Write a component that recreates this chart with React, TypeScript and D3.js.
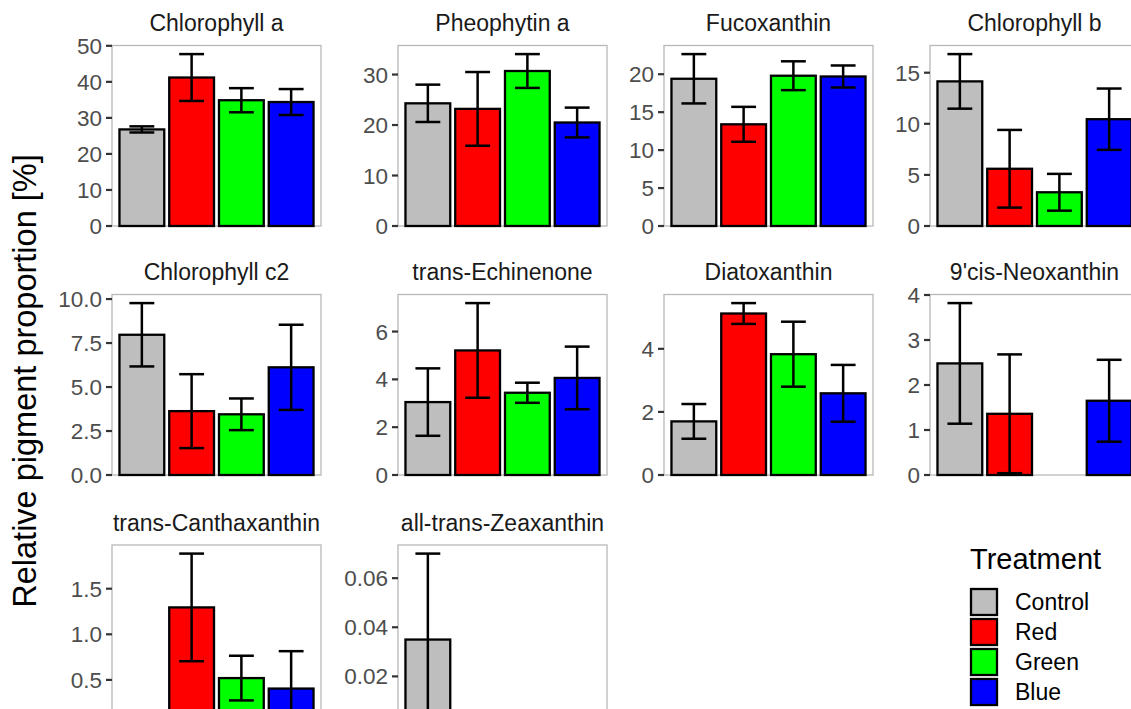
import React from 'react';
import * as d3 from 'd3';

// pigment panels, in facet order
const pigments = [
  'Chlorophyll a', 'Pheophytin a', 'Fucoxanthin', 'Chlorophyll b',
  'Chlorophyll c2', 'trans-Echinenone', 'Diatoxanthin', "9'cis-Neoxanthin",
  'trans-Canthaxanthin', 'all-trans-Zeaxanthin',
];
const treatments = ['Control', 'Red', 'Green', 'Blue'];
const treatmentColors = ['#BEBEBE', '#FF0000', '#00FF00', '#0000FF'];

// mean and standard error per treatment (null = not detected)
const controlMean = [26.8, 24.3, 19.4, 14.15, 7.97, 3.05, 1.7, 2.48, null, 0.035];
const controlSe = [0.85, 3.7, 3.25, 2.67, 1.8, 1.41, 0.55, 1.34, null, 0.035];
const redMean = [41.2, 23.2, 13.4, 5.6, 3.63, 5.21, 5.12, 1.36, 1.295, null];
const redSe = [6.5, 7.3, 2.3, 3.8, 2.1, 1.98, 0.33, 1.32, 0.59, null];
const greenMean = [34.9, 30.7, 19.8, 3.3, 3.45, 3.44, 3.83, null, 0.52, null];
const greenSe = [3.35, 3.35, 1.9, 1.8, 0.9, 0.42, 1.03, null, 0.245, null];
const blueMean = [34.4, 20.5, 19.7, 10.45, 6.12, 4.06, 2.59, 1.65, 0.405, null];
const blueSe = [3.6, 2.95, 1.45, 3.0, 2.42, 1.31, 0.9, 0.91, 0.41, null];

// y tick labels per panel
const yTicks = [
  ['0', '10', '20', '30', '40', '50'],
  ['0', '10', '20', '30'],
  ['0', '5', '10', '15', '20'],
  ['0', '5', '10', '15'],
  ['0.0', '2.5', '5.0', '7.5', '10.0'],
  ['0', '2', '4', '6'],
  ['0', '2', '4'],
  ['0', '1', '2', '3', '4'],
  ['0.0', '0.5', '1.0', '1.5'],
  ['0.00', '0.02', '0.04', '0.06'],
];

const means = [controlMean, redMean, greenMean, blueMean];
const ses = [controlSe, redSe, greenSe, blueSe];

const W = 1131;
const H = 709;
const colLeft = [112, 398, 664, 930];
const rowTop = [45.5, 294.5, 545];
const panelW = 209;
const panelH = 180.5;
const font = "'Liberation Sans', Arial, sans-serif";

function Panel({ idx }: { idx: number }) {
  const left = colLeft[idx % 4];
  const top = rowTop[Math.floor(idx / 4)];

  const rows = treatments.map((t, k) => ({
    t,
    color: treatmentColors[k],
    mean: means[k][idx],
    se: ses[k][idx],
  }));
  const maxTop = d3.max(rows, d => (d.mean == null ? 0 : d.mean + (d.se || 0))) || 1;

  const x = d3.scaleBand().domain(treatments).range([0, panelW]).paddingInner(0.1).paddingOuter(0.15);
  const y = d3.scaleLinear().domain([0, maxTop * 1.05]).range([panelH, 0]);
  const capW = x.step() * 0.5;

  // labels that fall below the picture are not shown
  const ticks = yTicks[idx].filter(lab => top + y(+lab) < H - 6);

  return (
    <g transform={`translate(${left},${top})`}>
      <text
        x={panelW / 2}
        y={-14.5}
        textAnchor="middle"
        fontSize={23}
        fill="#1A1A1A"
      >
        {pigments[idx]}
      </text>
      <rect x={0} y={0} width={panelW} height={panelH} fill="white" stroke="#B8B8B8" strokeWidth={1.3} />
      {ticks.map(lab => (
        <g key={lab} transform={`translate(0,${y(+lab)})`}>
          <line x1={-6} x2={0} stroke="#333333" strokeWidth={2.2} />
          <text x={-10} dy="0.36em" textAnchor="end" fontSize={22.5} fill="#4D4D4D">
            {lab}
          </text>
        </g>
      ))}
      {rows.filter(d => d.mean != null).map(d => (
        <rect
          key={d.t}
          x={x(d.t)}
          y={y(d.mean as number)}
          width={x.bandwidth()}
          height={y(0) - y(d.mean as number)}
          fill={d.color}
          stroke="black"
          strokeWidth={2.3}
        />
      ))}
      {rows.filter(d => d.mean != null).map(d => {
        const cx = (x(d.t) as number) + x.bandwidth() / 2;
        const lo = y(Math.max(0, (d.mean as number) - (d.se as number)));
        const hi = y((d.mean as number) + (d.se as number));
        return (
          <g key={d.t} stroke="black" strokeWidth={2.5}>
            <line x1={cx} x2={cx} y1={lo} y2={hi} />
            <line x1={cx - capW / 2} x2={cx + capW / 2} y1={hi} y2={hi} />
            <line x1={cx - capW / 2} x2={cx + capW / 2} y1={lo} y2={lo} />
          </g>
        );
      })}
    </g>
  );
}

export default function App() {
  return (
    <svg
      width={W}
      height={H}
      style={{ position: 'fixed', left: 0, top: 0, background: 'white', fontFamily: font }}
    >
      <rect width={W} height={H} fill="white" />
      {pigments.map((p, i) => (
        <Panel key={p} idx={i} />
      ))}
      <text
        transform="translate(36,381) rotate(-90)"
        textAnchor="middle"
        fontSize={32.5}
        fill="black"
      >
        Relative pigment proportion [%]
      </text>
      <g transform="translate(970,0)">
        <text x={0} y={569} fontSize={29} fill="black">Treatment</text>
        {treatments.map((t, k) => (
          <g key={t} transform={`translate(0,${588 + k * 30})`}>
            <rect x={1} y={1} width={26} height={26} fill={treatmentColors[k]} stroke="black" strokeWidth={2.3} />
            <text x={45} y={14} dy="0.36em" fontSize={23} fill="black">{t}</text>
          </g>
        ))}
      </g>
    </svg>
  );
}
